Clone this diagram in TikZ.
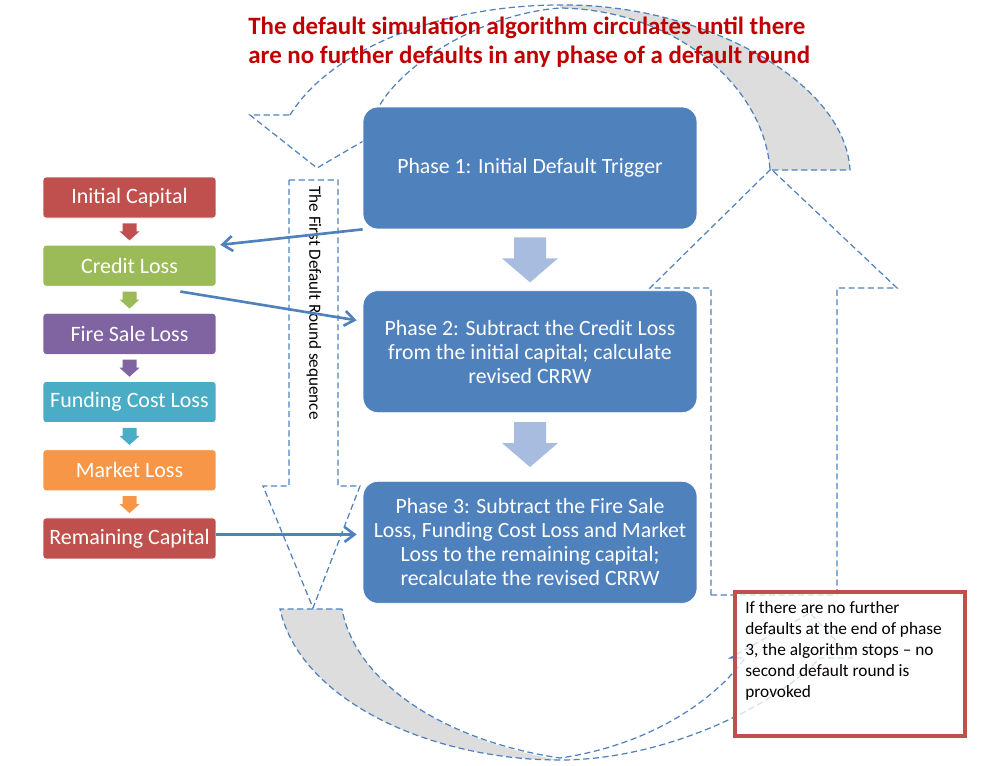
\documentclass[tikz,border=0pt]{standalone}
\usepackage{fontspec}
\setmainfont{Carlito}
\usetikzlibrary{calc,arrows.meta,positioning}

\definecolor{phaseblue}{RGB}{79,129,189}
\definecolor{stepblue}{RGB}{167,188,223}
\definecolor{capred}{RGB}{192,80,77}
\definecolor{creditgreen}{RGB}{155,187,89}
\definecolor{firepurple}{RGB}{128,100,162}
\definecolor{fundteal}{RGB}{75,172,198}
\definecolor{marketorange}{RGB}{247,150,70}
\definecolor{titlered}{RGB}{192,0,0}
\definecolor{bandgray}{RGB}{221,221,221}

% down block arrow: anchor, drop, shaft half width, head half width, shaft length, head length
\def\blockdown[#1](#2)(#3:#4:#5:#6:#7){\fill[#1] ($(#2)+(-#4,#3)$) -- ++(2*#4,0) -- ++(0,#6) -- ++(#5-#4,0) -- ++(-#5,#7) -- ++(-#5,-#7) -- ++(#5-#4,0) -- cycle;}

\begin{document}
\begin{tikzpicture}[x=0.02cm, y=-0.02cm,
	loop/.style={draw=phaseblue, line width=0.7pt, dash pattern=on 3.5pt off 2pt},
	phase/.style={rectangle, rounded corners=0.3cm, fill=phaseblue, draw=white, text=white, align=center,
		minimum width=6.68cm, minimum height=2.44cm, font=\fontsize{12.4}{13.6}\selectfont},
	loss/.style={rectangle, rounded corners=0.06cm, draw=white, text=white,
		minimum width=3.46cm, minimum height=0.82cm, font=\fontsize{12.5}{14}\selectfont},
	link/.style={draw=phaseblue, line width=1.5pt, -{Straight Barb[length=2mm,width=3mm]}},
	notebox/.style={rectangle, draw=capred, line width=0.08cm, fill=white, fill opacity=0.75,
		minimum width=4.6cm, minimum height=2.88cm},
	node distance=0.53cm]
		%%%%% START %%%%%
		
		\useasboundingbox (0,0) rectangle (1004,765);
		
		% top loop band
		\fill[bandgray] (560,5) .. controls (700,3) and (845,80) .. (850,170) -- (770,170) .. controls (765,90) and (680,10) .. (560,8) -- cycle;
		\draw[loop] (290,115) .. controls (330,50) and (440,5) .. (560,5) .. controls (700,3) and (845,80) .. (850,170) -- (770,170) .. controls (765,90) and (680,10) .. (560,8) .. controls (480,14) and (398,66) .. (376,112) -- (408,115) -- (317,168) -- (250,115) -- cycle;
		
		% bottom loop band
		\fill[bandgray] (280,609) .. controls (300,700) and (430,760) .. (560,760) .. controls (440,740) and (355,680) .. (342,609) -- cycle;
		\draw[loop] (342,609) -- (280,609) .. controls (300,700) and (430,760) .. (560,760) .. controls (660,760) and (770,710) .. (820,658) -- (852,658) -- (810,613) -- (730,658) -- (745,658) .. controls (715,700) and (650,745) .. (560,758) .. controls (440,740) and (355,680) .. (342,609);
		
		% first round arrow (down) and return arrow (up)
		\draw[loop] (289,180) -- (338,180) -- (338,486) -- (360,486) -- (313,608) -- (263,486) -- (289,486) -- cycle;
		\draw[loop] (711,595) -- (837,595) -- (837,288) -- (897,288) -- (771,169) -- (650,288) -- (711,288) -- cycle;
		
		\node[anchor=north west, inner sep=0pt, align=left, text=titlered, font=\fontsize{14.2}{16.2}\selectfont\bfseries] (title) at (248,17)
			{The default simulation algorithm circulates until there\\are no further defaults in any phase of a default round};
		
		% capital waterfall
		\node[loss, fill=capred] (cap) at (129.5,197.5) {Initial Capital};
		\node[loss, fill=creditgreen, below=of cap] (credit) {Credit Loss};
		\node[loss, fill=firepurple, below=of credit] (fire) {Fire Sale Loss};
		\node[loss, fill=fundteal, below=of fire] (fund) {Funding Cost Loss};
		\node[loss, fill=marketorange, below=of fund] (market) {Market Loss};
		\node[loss, fill=capred, below=of market] (remain) {Remaining Capital};
		\foreach \a/\c in {cap/capred, credit/creditgreen, fire/firepurple, fund/fundteal, market/marketorange}
			\blockdown[fill=\c](\a.south)(5:7:10:8:9);
		
		% phases
		\node[phase] (ph1) at (530,168) {Phase 1: Initial Default Trigger};
		\node[phase, below=1.22cm of ph1] (ph2) {Phase 2: Subtract the Credit Loss\\from the initial capital; calculate\\revised CRRW};
		\node[phase, below=1.36cm of ph2] (ph3) {Phase 3: Subtract the Fire Sale\\Loss, Funding Cost Loss and Market\\Loss to the remaining capital;\\recalculate the revised CRRW};
		\blockdown[fill=stepblue](ph1.south)(8:16:28:21:24);
		\blockdown[fill=stepblue](ph2.south)(9:16:28:21:24);
		
		\node[rotate=-90, font=\fontsize{9.75}{11}\selectfont] (round) at (314,303) {The First Default Round sequence};
		
		\draw[link] (ph1.south west) -- ([xshift=0.08cm]credit.north east);
		\draw[link] ([xshift=-0.72cm,yshift=-0.1cm]credit.south east) -- ([xshift=-0.12cm,yshift=-0.6cm]ph2.north west);
		\draw[link] ([yshift=0.08cm]remain.east) -- ([xshift=-0.12cm,yshift=0.08cm]remain.east -| ph3.west);
		
		% stop note
		\node[notebox] (note) at (850,664) {};
		\node[anchor=north west, inner sep=0pt, align=left, font=\fontsize{9.85}{11.9}\selectfont] (notetext) at ([xshift=0.24cm,yshift=-0.22cm]note.north west)
			{If there are no further\\defaults at the end of phase\\3, the algorithm stops -- no\\second default round is\\provoked};
		
		%%%%% END %%%%%
\end{tikzpicture}
\end{document}
